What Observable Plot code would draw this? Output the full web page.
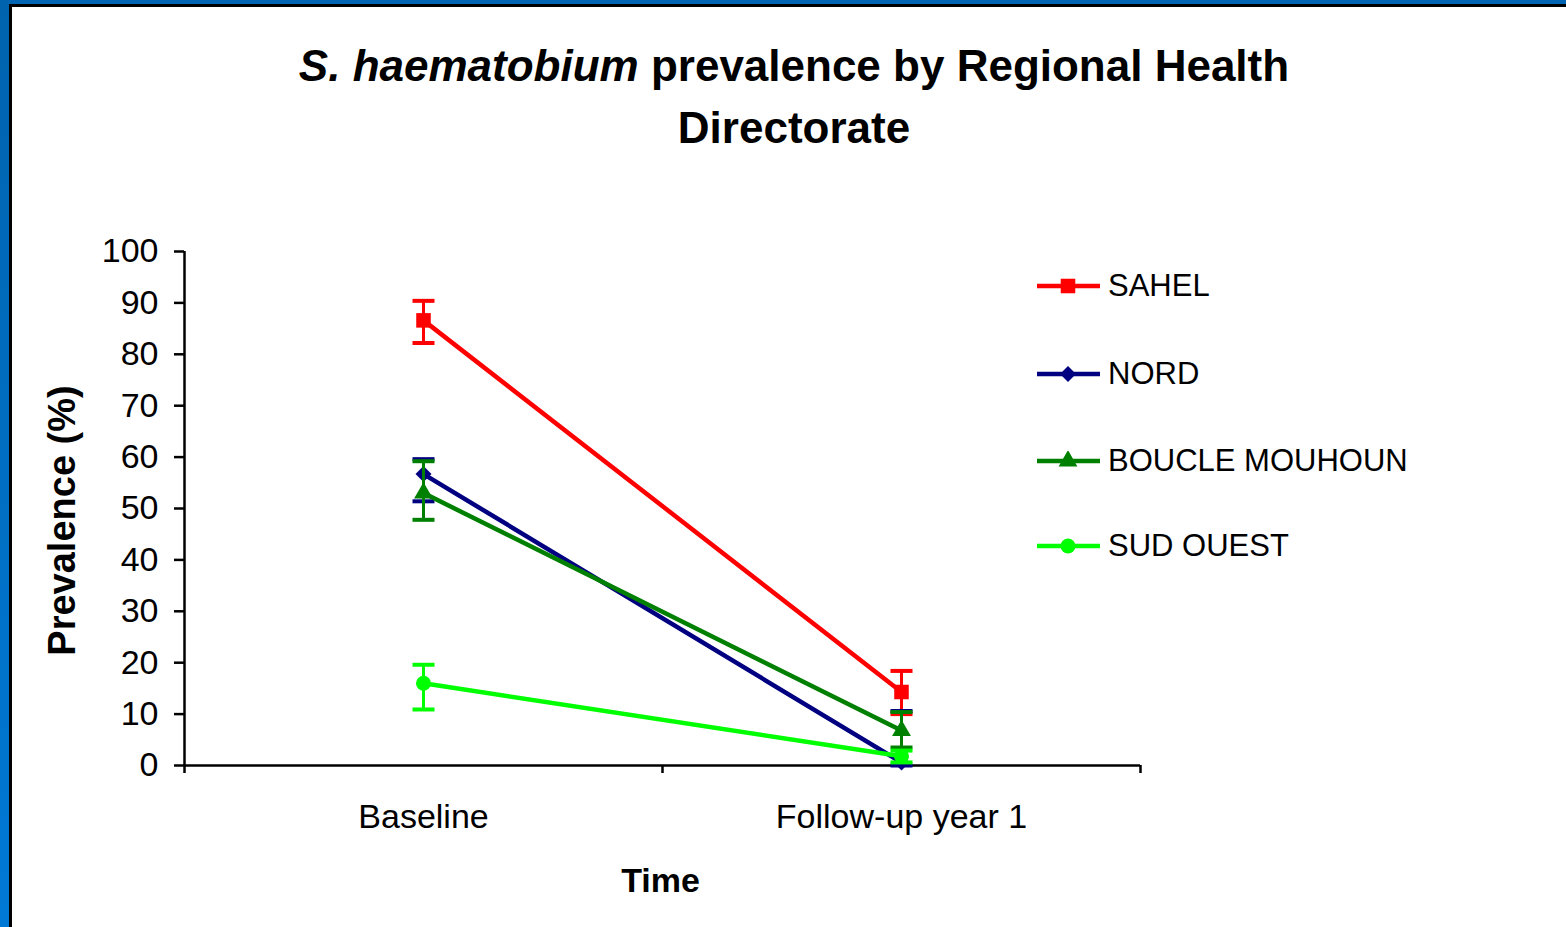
<!DOCTYPE html>
<html><head><meta charset="utf-8">
<script src="https://cdn.jsdelivr.net/npm/d3@7"></script>
<script src="https://cdn.jsdelivr.net/npm/@observablehq/plot@0.6"></script>
<style>
html,body{margin:0;padding:0;background:#fff;}
body{width:1566px;height:927px;position:relative;overflow:hidden;font-family:"Liberation Sans",Arial,sans-serif;color:#000;}
#bl{position:absolute;left:0;top:0;width:9px;height:927px;background:linear-gradient(#0063ae,#0079d6);}
#bt{position:absolute;left:0;top:0;width:1566px;height:4px;background:#0066b3;}
#kl{position:absolute;left:9px;top:4px;width:3px;height:923px;background:#000;}
#kt{position:absolute;left:9px;top:4px;width:1557px;height:3px;background:#000;}
#title{position:absolute;left:0;width:1588px;top:35px;text-align:center;font-weight:bold;font-size:44px;line-height:62px;}
#chart{position:absolute;left:0;top:200px;}
.lg{position:absolute;left:1037px;height:40px;display:flex;align-items:center;font-size:31px;white-space:nowrap;}
.lg svg{margin-right:7px;}
</style></head>
<body>
<div id="bt"></div><div id="bl"></div><div id="kt"></div><div id="kl"></div>
<div id="title"><i>S. haematobium</i> prevalence by Regional Health<br>Directorate</div>
<div id="chart"></div>
<div id="legend"></div>
<script>
const times = ["Baseline", "Follow-up year 1"];
const timePos = [0.5, 1.5];
const regions = ["SAHEL", "NORD", "BOUCLE MOUHOUN", "SUD OUEST"];
const colors = ["#ff0000", "#000080", "#008000", "#00ff00"];
const symbols = ["square", "diamond2", "triangle", "circle"];
const symbolR = [8.2, 7.2, 7.0, 7.5];
const yTicks = [0, 10, 20, 30, 40, 50, 60, 70, 80, 90, 100];

const sahel = [86.6, 14.3];
const sahelLo = [82.2, 10.0];
const sahelHi = [90.4, 18.4];
const nord = [56.7, 0.6];
const nordLo = [51.4, 0.0];
const nordHi = [59.6, 10.6];
const boucle = [53.0, 6.8];
const boucleLo = [47.8, 3.5];
const boucleHi = [59.2, 10.4];
const sud = [16.0, 1.8];
const sudLo = [10.9, 0.6];
const sudHi = [19.6, 2.9];

const series = [[sahel, sahelLo, sahelHi], [nord, nordLo, nordHi], [boucle, boucleLo, boucleHi], [sud, sudLo, sudHi]];

const capSymbol = {draw(ctx, size) { const w = Math.sqrt(size / Math.PI); ctx.moveTo(-w, 0); ctx.lineTo(w, 0); }};

const marks = [
  Plot.axisY({ticks: yTicks, tickSize: 10, tickPadding: 16, tickFormat: d => String(d), label: "Prevalence (%)", labelAnchor: "center", labelArrow: "none", labelOffset: 136}),
  Plot.axisX({ticks: [0, 1, 2], tickSize: 8, tickFormat: () => "", label: null}),
  Plot.axisX({ticks: timePos, tickSize: 0, tickPadding: 38, tickFormat: d => times[timePos.indexOf(d)], label: "Time", labelAnchor: "center", labelArrow: "none", labelOffset: 126}),
  Plot.ruleX([0], {stroke: "#000", strokeWidth: 2.5}),
  Plot.ruleY([0], {stroke: "#000", strokeWidth: 2.5})
];

series.forEach(([vals, lo, hi], i) => {
  const rows = times.map((t, j) => ({region: regions[i], x: timePos[j], y: vals[j], lo: lo[j], hi: hi[j]}));
  const caps = rows.flatMap(r => [{x: r.x, y: r.lo}, {x: r.x, y: r.hi}]);
  marks.push(Plot.line(rows, {x: "x", y: "y", stroke: colors[i], strokeWidth: 4.5}));
  marks.push(Plot.ruleX(rows, {x: "x", y1: "lo", y2: "hi", stroke: colors[i], strokeWidth: 3}));
  marks.push(Plot.dot(caps, {x: "x", y: "y", symbol: capSymbol, r: 11, fill: "none", stroke: colors[i], strokeWidth: 4}));
  marks.push(Plot.dot(rows, {x: "x", y: "y", symbol: symbols[i], r: symbolR[i], fill: colors[i], stroke: "none"}));
});

const chart = Plot.plot({
  width: 1566, height: 727,
  marginLeft: 184, marginRight: 426, marginTop: 51, marginBottom: 162,
  style: {fontFamily: "'Liberation Sans', Arial, sans-serif", fontSize: "34px", color: "#000", background: "transparent", overflow: "visible"},
  x: {domain: [0, 2]},
  y: {domain: [0, 100]},
  marks
});
d3.select(chart).selectAll('[aria-label="y-axis label"] text').style("font-weight", "bold").style("font-size", "38px").attr("dx", -12);
d3.select(chart).selectAll('[aria-label="x-axis label"] text').style("font-weight", "bold").style("font-size", "34px").attr("dx", -2);
d3.select(chart).selectAll('[aria-label="y-axis tick"], [aria-label="x-axis tick"]').attr("stroke-width", 2.5);
document.getElementById("chart").appendChild(chart);

const centers = [286, 374, 461, 546];
const legend = document.getElementById("legend");
regions.forEach((name, i) => {
  const div = document.createElement("div");
  div.className = "lg";
  div.style.top = (centers[i] - 20) + "px";
  const svg = d3.create("svg").attr("width", 64).attr("height", 20);
  svg.append("line").attr("x1", 0).attr("x2", 63).attr("y1", 10).attr("y2", 10).attr("stroke", colors[i]).attr("stroke-width", 4.5);
  const symType = {square: d3.symbolSquare, diamond2: d3.symbolDiamond2, triangle: d3.symbolTriangle, circle: d3.symbolCircle}[symbols[i]];
  svg.append("path").attr("transform", "translate(31,10)").attr("d", d3.symbol(symType, Math.PI * symbolR[i] * symbolR[i])()).attr("fill", colors[i]);
  div.appendChild(svg.node());
  const span = document.createElement("span");
  span.textContent = name;
  div.appendChild(span);
  legend.appendChild(div);
});
</script>
</body></html>
